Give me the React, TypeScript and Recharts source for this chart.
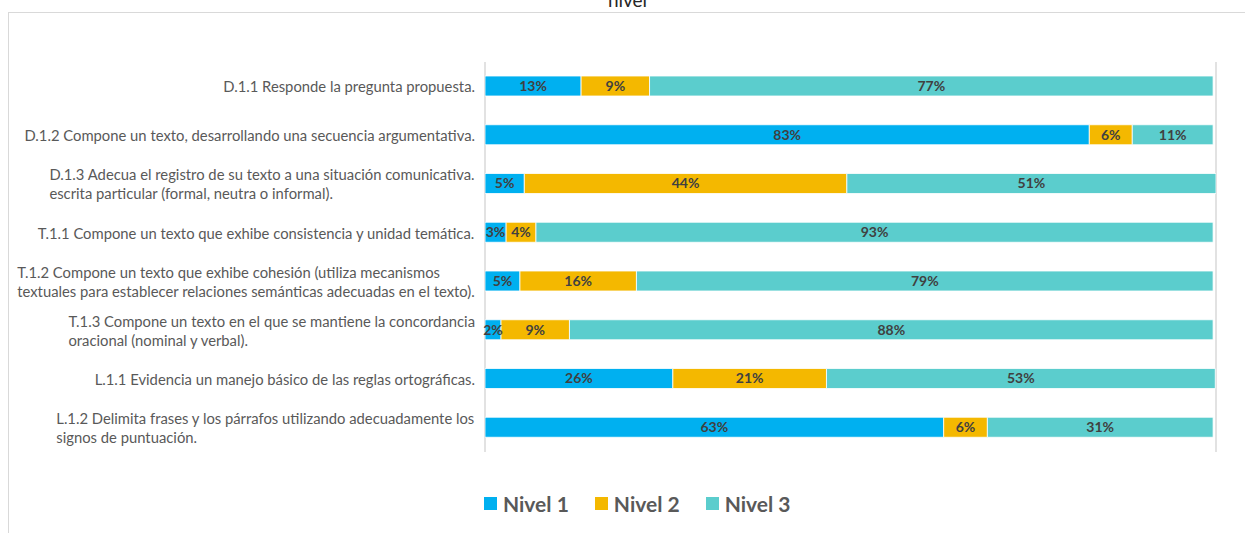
import React from "react";
import { BarChart, Bar, XAxis, YAxis, CartesianGrid, LabelList } from "recharts";

const categories: string[] = [
  "D.1.1 Responde la pregunta propuesta.",
  "D.1.2 Compone un texto, desarrollando una secuencia argumentativa.",
  "D.1.3 Adecua el registro de su texto a una situación comunicativa.\nescrita particular (formal, neutra o informal).",
  "T.1.1 Compone un texto que exhibe consistencia y unidad temática.",
  "T.1.2 Compone un texto que exhibe cohesión (utiliza mecanismos\ntextuales para establecer relaciones semánticas adecuadas en el texto).",
  "T.1.3 Compone un texto en el que se mantiene la concordancia\noracional (nominal y verbal).",
  "L.1.1 Evidencia un manejo básico de las reglas ortográficas.",
  "L.1.2 Delimita frases y los párrafos utilizando adecuadamente los\nsignos de puntuación.",
];

const nivel1: number[] = [13.2, 83.0, 5.4, 2.9, 4.8, 2.2, 25.8, 63.0];
const nivel2: number[] = [9.4, 5.9, 44.3, 4.1, 16.0, 9.4, 21.1, 6.0];
const nivel3: number[] = [77.4, 11.1, 50.7, 93.0, 79.2, 88.4, 53.4, 31.0];

const xTicks: number[] = [0, 20, 40, 60, 80, 100];
const xDomain: [number, number] = [0, 100.4];

const series = [
  { key: "n1", name: "Nivel 1", color: "#00B0F0" },
  { key: "n2", name: "Nivel 2", color: "#F4B800" },
  { key: "n3", name: "Nivel 3", color: "#5BCDCD" },
];

const data = categories.map((cat, i) => ({
  cat,
  n1: nivel1[i],
  n2: nivel2[i],
  n3: nivel3[i],
}));

const FONT = "Lato, 'Open Sans', sans-serif";
const CAT_SIZE = 14.8;

let canvasCtx: CanvasRenderingContext2D | null = null;
function measure(text: string, font: string): number {
  if (!canvasCtx) {
    const c = document.createElement("canvas");
    canvasCtx = c.getContext("2d");
  }
  if (!canvasCtx) return text.length * 7;
  canvasCtx.font = font;
  return canvasCtx.measureText(text).width;
}

const CategoryTick = (props: any) => {
  const { x, y, payload } = props;
  const lines: string[] = String(payload.value).split("\n");
  const lineH = 19;
  const font = `${CAT_SIZE}px Lato`;
  const maxW = Math.max(...lines.map((l) => measure(l, font)));
  const startX = x - maxW;
  const top = y - ((lines.length - 1) * lineH) / 2;
  return (
    <text
      x={startX}
      y={top}
      textAnchor="start"
      fill="#595959"
      fontFamily={FONT}
      fontSize={CAT_SIZE}
      dominantBaseline="central"
    >
      {lines.map((l, i) => (
        <tspan key={i} x={startX} y={top + i * lineH} dominantBaseline="central">
          {l}
        </tspan>
      ))}
    </text>
  );
};

const pct = (v: any) => `${Math.round(Number(v))}%`;

export default function App() {
  return (
    <div
      style={{
        position: "absolute",
        left: 0,
        top: 0,
        width: 1245,
        height: 533,
        overflow: "hidden",
        background: "#fff",
        fontFamily: FONT,
      }}
    >
      <div
        style={{
          position: "absolute",
          left: 8,
          top: 12,
          width: 1300,
          height: 600,
          borderLeft: "1.5px solid #d9d9d9",
          borderTop: "1.5px solid #d9d9d9",
        }}
      />
      <div
        style={{
          position: "absolute",
          left: 0,
          top: -12,
          width: 1255,
          textAlign: "center",
          fontSize: 19,
          lineHeight: "23px",
          color: "#262626",
          fontFamily: FONT,
        }}
      >
        nivel
      </div>
      <div style={{ position: "absolute", left: 0, top: 0 }}>
        <BarChart
          width={1245}
          height={533}
          data={data}
          layout="vertical"
          margin={{ top: 62, right: 29, bottom: 81, left: 0 }}
          barSize={20}
        >
          <CartesianGrid horizontal={false} vertical stroke="#d9d9d9" strokeWidth={1.5} />
          <XAxis
            type="number"
            domain={xDomain}
            ticks={xTicks}
            allowDataOverflow
            tick={false}
            axisLine={false}
            tickLine={false}
            height={0}
          />
          <YAxis
            type="category"
            dataKey="cat"
            width={485}
            axisLine={false}
            tickLine={false}
            tickSize={0}
            tickMargin={10}
            interval={0}
            tick={<CategoryTick />}
          />
          {series.map((s) => (
            <Bar
              key={s.key}
              dataKey={s.key}
              name={s.name}
              stackId="a"
              fill={s.color}
              stroke="#ffffff"
              strokeWidth={0.8}
              isAnimationActive={false}
            >
              <LabelList
                dataKey={s.key}
                position="center"
                formatter={pct}
                fill="#404040"
                fontFamily={FONT}
                fontWeight="bold"
                fontSize={14}
              />
            </Bar>
          ))}
        </BarChart>
      </div>
      <div
        style={{
          position: "absolute",
          left: 484,
          top: 490,
          display: "flex",
          alignItems: "center",
          height: 26,
        }}
      >
        {series.map((s, i) => (
          <div
            key={s.key}
            style={{ display: "flex", alignItems: "center", marginLeft: i === 0 ? 0 : 26 }}
          >
            <span
              style={{
                display: "inline-block",
                width: 13,
                height: 13,
                background: s.color,
                marginRight: 6,
              }}
            />
            <span
              style={{
                fontSize: 21,
                fontWeight: "bold",
                color: "#595959",
                fontFamily: FONT,
              }}
            >
              {s.name}
            </span>
          </div>
        ))}
      </div>
    </div>
  );
}
